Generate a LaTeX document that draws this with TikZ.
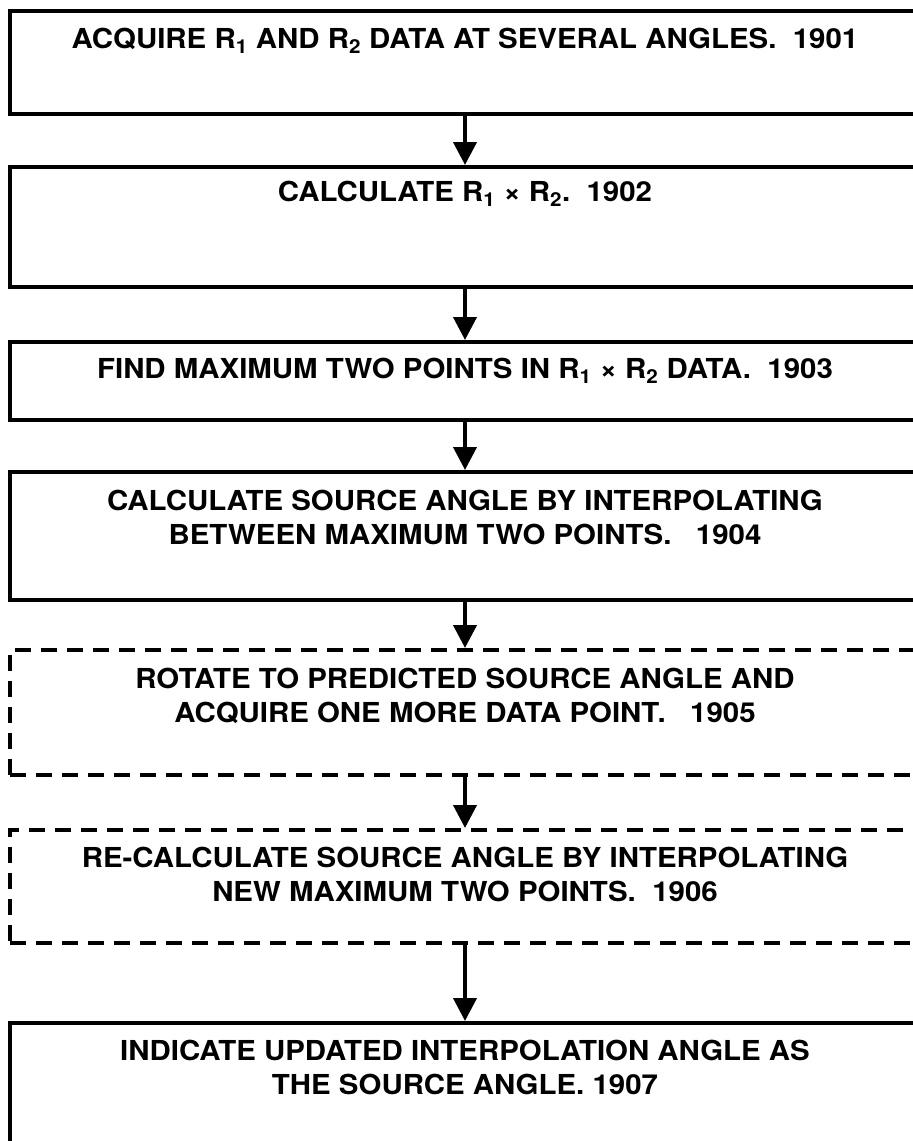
\documentclass[tikz,border=0pt]{standalone}
\usepackage{fontspec}
\setmainfont[FakeStretch=1.07]{TeX Gyre Heros}
\usetikzlibrary{arrows.meta}
\tikzset{
  stepbox/.style={draw=black, line width=4pt, rectangle, minimum width=910pt, inner sep=0pt},
  dashbox/.style={stepbox, dash pattern=on 16pt off 10pt},
  steptext/.style={anchor=north, inner sep=0pt, align=center,
    font=\fontsize{27.5pt}{34pt}\selectfont\bfseries},
  flow/.style={line width=4pt, -{Triangle[width=23pt,length=23pt]}}
}
\begin{document}
\begin{tikzpicture}[x=1pt,y=-1pt]
\useasboundingbox (0,0) rectangle (913,1141);
\clip (0,0) rectangle (913,1141);
\node[stepbox, minimum height=103pt] (b1) at (465,62.5) {};
\node[stepbox, minimum height=120pt] (b2) at (465,227) {};
\node[stepbox, minimum height=78pt]  (b3) at (465,381) {};
\node[stepbox, minimum height=128pt] (b4) at (465,536) {};
\node[dashbox, minimum height=125pt] (b5) at (465,712.5) {};
\node[dashbox, minimum height=113pt] (b6) at (465,886.5) {};
\node[stepbox, minimum height=137pt] (b7) at (465,1091.5) {};

\node[steptext] (t1) at (465,28) {ACQUIRE R\textsubscript{1} AND R\textsubscript{2} DATA AT SEVERAL ANGLES.\ \ 1901};
\node[steptext] (t2) at (465,181) {CALCULATE R\textsubscript{1} × R\textsubscript{2}.\ \ 1902};
\node[steptext] (t3) at (465,358) {FIND MAXIMUM TWO POINTS IN R\textsubscript{1} × R\textsubscript{2} DATA.\ \ 1903};
\node[steptext] (t4) at (465,490) {CALCULATE SOURCE ANGLE BY INTERPOLATING\\BETWEEN MAXIMUM TWO POINTS.\ \ \ 1904};
\node[steptext] (t5) at (465,668) {ROTATE TO PREDICTED SOURCE ANGLE AND\\ACQUIRE ONE MORE DATA POINT.\ \ \ 1905};
\node[steptext] (t6) at (465,847) {RE-CALCULATE SOURCE ANGLE BY INTERPOLATING\\NEW MAXIMUM TWO POINTS.\ \ 1906};
\node[steptext] (t7) at (465,1040) {INDICATE UPDATED INTERPOLATION ANGLE AS\\THE SOURCE ANGLE. 1907};

\draw[flow] (b1.south) -- (b2.north);
\draw[flow] (b2.south) -- (b3.north);
\draw[flow] (b3.south) -- (b4.north);
\draw[flow] (b4.south) -- (b5.north);
\draw[flow] (b5.south) -- (b6.north);
\draw[flow] (b6.south) -- (b7.north);
\end{tikzpicture}
\end{document}
